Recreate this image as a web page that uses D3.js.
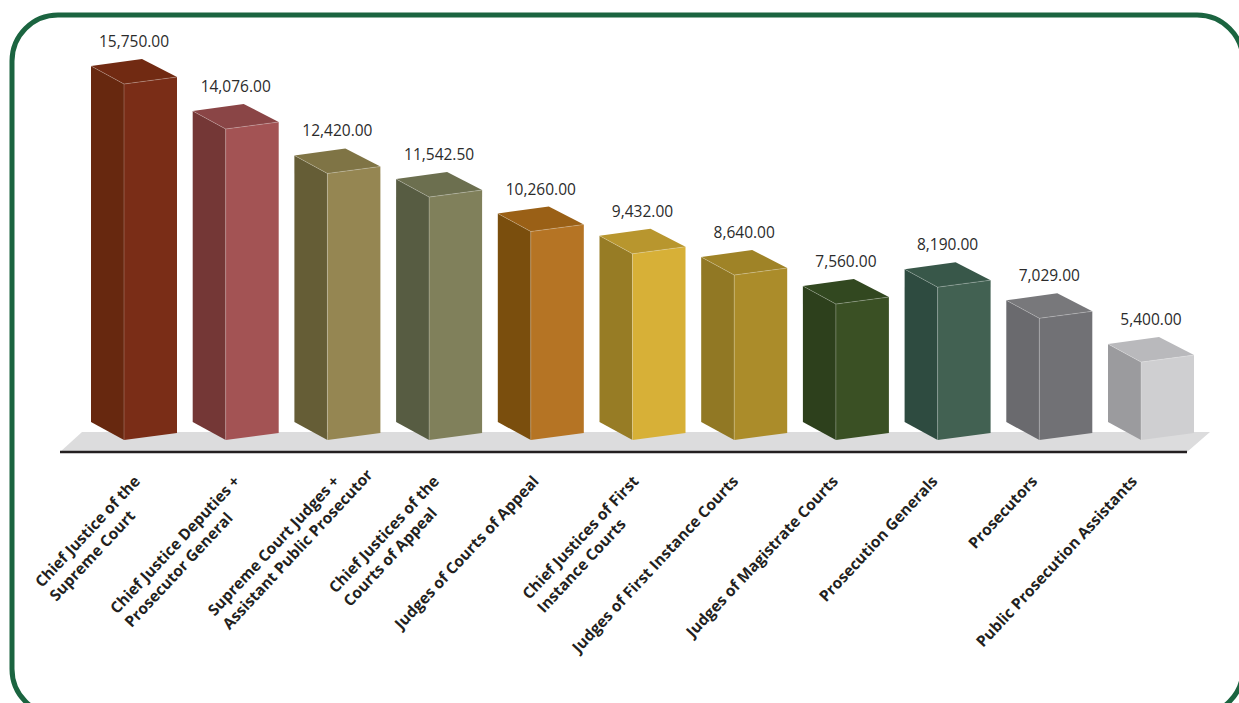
<!DOCTYPE html>
<html>
<head>
<meta charset="utf-8">
<script src="https://cdn.jsdelivr.net/npm/d3@7"></script>
<style>
  html, body { margin: 0; padding: 0; background: #ffffff; }
  svg { display: block; }
</style>
</head>
<body>
<svg id="chart" width="1239" height="703"></svg>
<script>
// ---- data ----
const categories = [
  "Chief Justice of the Supreme Court",
  "Chief Justice Deputies + Prosecutor General",
  "Supreme Court Judges + Assistant Public Prosecutor",
  "Chief Justices of the Courts of Appeal",
  "Judges of Courts of Appeal",
  "Chief Justices of First Instance Courts",
  "Judges of First Instance Courts",
  "Judges of Magistrate Courts",
  "Prosecution Generals",
  "Prosecutors",
  "Public Prosecution Assistants"
];
const labelLines = [
  ["Chief Justice of the", "Supreme Court"],
  ["Chief Justice Deputies +", "Prosecutor General"],
  ["Supreme Court Judges +", "Assistant Public Prosecutor"],
  ["Chief Justices of the", "Courts of Appeal"],
  ["Judges of Courts of Appeal"],
  ["Chief Justices of First", "Instance Courts"],
  ["Judges of First Instance Courts"],
  ["Judges of Magistrate Courts"],
  ["Prosecution Generals"],
  ["Prosecutors"],
  ["Public Prosecution Assistants"]
];
const values = [15750, 14076, 12420, 11542.5, 10260, 9432, 8640, 7560, 8190, 7029, 5400];
const sideColors  = ["#67280f", "#743736", "#655d36", "#575c42", "#7a4e0d", "#977c25", "#917824", "#2d401c", "#2e4b40", "#6a6a6e", "#9b9b9e"];
const frontColors = ["#7a2d17", "#a35354", "#958652", "#80805b", "#b57424", "#d7b037", "#ab8c2a", "#3a5024", "#426152", "#717175", "#cfcfd1"];
const topColors   = ["#712a12", "#8a4546", "#7f7445", "#6c6f4f", "#9a6016", "#b8962e", "#9f8327", "#324820", "#385749", "#78787b", "#b9b9bc"];

// ---- layout ----
const svg = d3.select("#chart");
const fmt = d3.format(",.2f");

const x = d3.scalePoint().domain(categories).range([91, 1108]);      // left edge of each bar
const xl = d3.scalePoint().domain(categories).range([141, 1138]);    // label anchor
const y = d3.scaleLinear().domain([2500, 16000]).range([422, 59.3]);

const sideW = 33, sideDrop = 18, frontW = 53, frontRise = 7;

// border
svg.append("rect")
  .attr("x", 12).attr("y", 15)
  .attr("width", 1231).attr("height", 700)
  .attr("rx", 46).attr("ry", 46)
  .attr("fill", "none")
  .attr("stroke", "#1b6440")
  .attr("stroke-width", 5);

// floor
const base = y(2500);
svg.append("path")
  .attr("d", `M60,${base + 30} L82,${base + 10} L1210,${base + 10} L1187,${base + 30} Z`)
  .attr("fill", "#dcdcdd");

// axis line
svg.append("line")
  .attr("x1", 60).attr("x2", 1187)
  .attr("y1", base + 30).attr("y2", base + 30)
  .attr("stroke", "#231f20").attr("stroke-width", 2.5);

// bars
const bars = svg.append("g").selectAll("g").data(values).join("g");
bars.each(function(v, i) {
  const g = d3.select(this);
  const x0 = x(categories[i]);
  const yt = y(v);
  const yb = y(2500);
  const L = [x0, yt], F = [x0 + sideW, yt + sideDrop], R = [x0 + sideW + frontW, yt + sideDrop - frontRise];
  const B = [x0 + frontW - 2, yt - frontRise];
  const Lb = [x0, yb], Fb = [x0 + sideW, yb + sideDrop], Rb = [x0 + sideW + frontW, yb + sideDrop - frontRise];
  const p = pts => "M" + pts.map(q => q.join(",")).join("L") + "Z";
  g.append("path").attr("d", p([L, F, Fb, Lb])).attr("fill", sideColors[i]);
  g.append("path").attr("d", p([F, R, Rb, Fb])).attr("fill", frontColors[i]);
  g.append("path").attr("d", p([L, B, R, F])).attr("fill", topColors[i]);
  g.append("path").attr("d", `M${L}L${F}L${R}M${F}L${Fb}`)
    .attr("fill", "none").attr("stroke", "rgba(255,255,255,0.28)").attr("stroke-width", 0.8);
});

// value labels
svg.append("g").selectAll("text").data(values).join("text")
  .attr("x", (d, i) => x(categories[i]) + 43)
  .attr("y", d => y(d) - 19)
  .attr("text-anchor", "middle")
  .attr("font-family", "'Open Sans', 'Noto Sans', sans-serif")
  .attr("font-size", 15.5)
  .attr("fill", "#2b2b2b")
  .text(d => fmt(d));

// category labels
const lab = svg.append("g").selectAll("g").data(categories).join("g")
  .attr("transform", d => `translate(${xl(d)},482) rotate(-47)`)
  .attr("font-family", "'Open Sans', 'Noto Sans', sans-serif")
  .attr("font-weight", "bold")
  .attr("font-size", 15.5)
  .attr("fill", "#231f20");
lab.each(function(d, i) {
  const g = d3.select(this);
  const lines = labelLines[i];
  const t1 = g.append("text").attr("x", 0).attr("y", 0).attr("text-anchor", "end").text(lines[0]);
  const w1 = t1.node().getComputedTextLength();
  for (let k = 1; k < lines.length; k++) {
    g.append("text").attr("x", -w1).attr("y", 20 * k).attr("text-anchor", "start").text(lines[k]);
  }
});
</script>
</body>
</html>
